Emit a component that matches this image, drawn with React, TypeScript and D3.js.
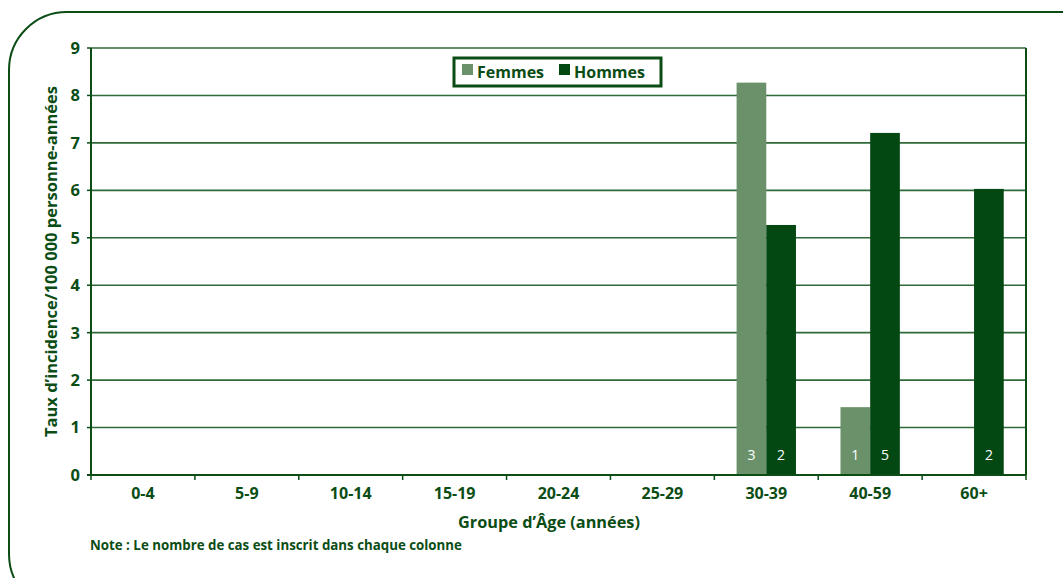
import React from "react";
import * as d3 from "d3";

const ageGroups = ["0-4", "5-9", "10-14", "15-19", "20-24", "25-29", "30-39", "40-59", "60+"];
const femmes = [0, 0, 0, 0, 0, 0, 8.27, 1.43, 0];
const hommes = [0, 0, 0, 0, 0, 0, 5.27, 7.21, 6.03];
const femmesCas = [0, 0, 0, 0, 0, 0, 3, 1, 0];
const hommesCas = [0, 0, 0, 0, 0, 0, 2, 5, 2];
const yTicks = [0, 1, 2, 3, 4, 5, 6, 7, 8, 9];
const seriesNames = ["Femmes", "Hommes"];
const seriesColors = ["#6b916b", "#034812"];

const W = 1063;
const H = 578;
const margin = { top: 48, right: 37, bottom: 103, left: 91 };
const textColor = "#0b4d15";
const font = "'Open Sans', sans-serif";

export default function App() {
  const x = d3
    .scaleBand()
    .domain(ageGroups)
    .range([margin.left, W - margin.right]);
  const y = d3
    .scaleLinear()
    .domain([0, 9])
    .range([H - margin.bottom, margin.top]);

  // two bars side by side, centred in each band
  const sub = d3
    .scaleBand()
    .domain(seriesNames)
    .range([0, x.bandwidth()])
    .paddingInner(0)
    .paddingOuter(0.75);

  const values = [femmes, hommes];
  const counts = [femmesCas, hommesCas];
  const y0 = y(0);

  return (
    <svg width={W} height={H} style={{ position: "absolute", left: 0, top: 0 }}>
      {/* frame */}
      <rect x={9} y={12} width={1120} height={600} rx={58} ry={58} fill="none" stroke="#0b4d15" strokeWidth={2} />

      {/* gridlines */}
      {yTicks.slice(1).map((t) => (
        <line key={t} x1={margin.left} x2={W - margin.right} y1={y(t)} y2={y(t)} stroke="#2f6a3a" strokeWidth={1.6} />
      ))}
      <line x1={W - margin.right} x2={W - margin.right} y1={y(9)} y2={y0} stroke="#0b4d15" strokeWidth={2} />

      {/* bars */}
      {ageGroups.map((g, i) =>
        seriesNames.map((s, k) => {
          const v = values[k][i];
          if (!v) return null;
          const bx = (x(g) as number) + (sub(s) as number);
          return (
            <g key={g + s}>
              <rect x={bx} y={y(v)} width={sub.bandwidth()} height={y0 - y(v)} fill={seriesColors[k]} />
              <text x={bx + sub.bandwidth() / 2} y={y0 - 15} textAnchor="middle" fill="#fff" fontSize={14} fontFamily={font}>
                {counts[k][i]}
              </text>
            </g>
          );
        })
      )}

      {/* axes */}
      <line x1={margin.left} x2={margin.left} y1={y(9)} y2={y0 + 1} stroke="#0b4d15" strokeWidth={2} />
      <line x1={margin.left - 4} x2={W - margin.right} y1={y0} y2={y0} stroke="#0b4d15" strokeWidth={2} />
      {yTicks.map((t) => (
        <g key={t}>
          <line x1={margin.left - 4} x2={margin.left} y1={y(t)} y2={y(t)} stroke="#0b4d15" strokeWidth={1.5} />
          <text x={margin.left - 11} y={y(t)} dy="0.36em" textAnchor="end" fill={textColor} fontSize={16.5} fontWeight="bold" fontFamily={font}>
            {t}
          </text>
        </g>
      ))}
      {ageGroups.map((g, i) => (
        <g key={g}>
          <line x1={(x(g) as number) + x.bandwidth()} x2={(x(g) as number) + x.bandwidth()} y1={y0} y2={y0 + 5} stroke="#0b4d15" strokeWidth={1.5} />
          {i === 0 && <line x1={x(g) as number} x2={x(g) as number} y1={y0} y2={y0 + 5} stroke="#0b4d15" strokeWidth={1.5} />}
          <text x={(x(g) as number) + x.bandwidth() / 2} y={y0 + 24} textAnchor="middle" fill={textColor} fontSize={16} fontWeight="bold" fontFamily={font}>
            {g}
          </text>
        </g>
      ))}

      <text
        transform={`translate(57,${(y(9) + y0) / 2}) rotate(-90)`}
        textAnchor="middle"
        fill={textColor}
        fontSize={16.5}
        fontWeight="bold"
        fontFamily={font}
      >
        Taux d’incidence/100 000 personne-années
      </text>
      <text x={549} y={528} textAnchor="middle" fill={textColor} fontSize={16.3} fontWeight="bold" fontFamily={font}>
        Groupe d’Âge (années)
      </text>
      <text x={90} y={550} fill={textColor} fontSize={13.3} fontWeight="bold" fontFamily={font}>
        Note : Le nombre de cas est inscrit dans chaque colonne
      </text>

      {/* legend */}
      <rect x={454} y={58} width={207} height={28} fill="#fff" stroke="#0b4d15" strokeWidth={3} />
      {seriesNames.map((s, k) => {
        const lx = k === 0 ? 462 : 559;
        return (
          <g key={s}>
            <rect x={lx} y={64} width={11} height={11} fill={seriesColors[k]} />
            <text x={lx + 15} y={77.5} fill={textColor} fontSize={16} fontWeight="bold" fontFamily={font}>
              {s}
            </text>
          </g>
        );
      })}
    </svg>
  );
}
